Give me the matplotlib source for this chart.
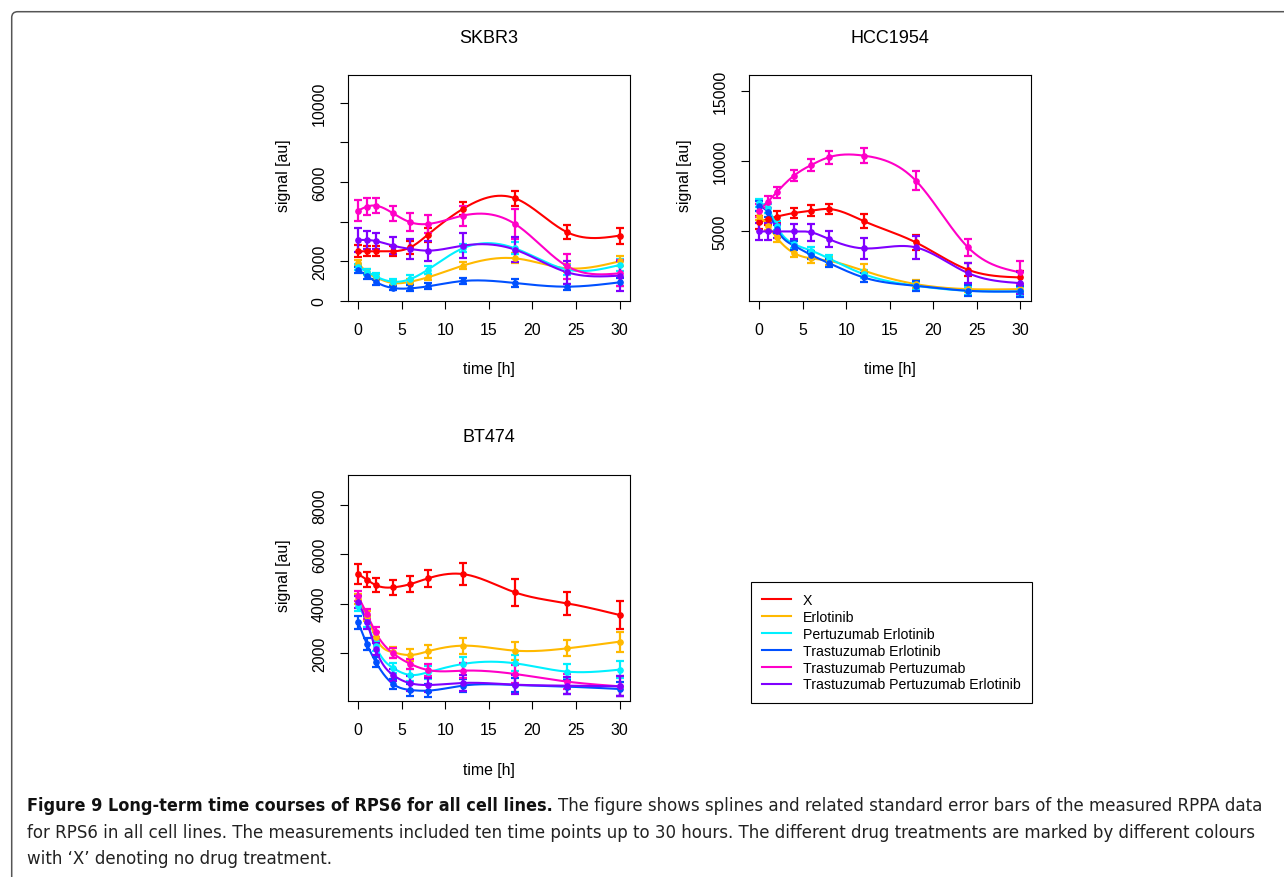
import numpy as np
import matplotlib.pyplot as plt
from matplotlib.patches import FancyBboxPatch
from matplotlib.lines import Line2D

plt.rcParams['font.family'] = ['Liberation Sans', 'DejaVu Sans']

# time points [h]
t = [0, 1, 2, 4, 6, 8, 12, 18, 24, 30]

treatments = ['X', 'Erlotinib', 'Pertuzumab Erlotinib', 'Trastuzumab Erlotinib',
              'Trastuzumab Pertuzumab', 'Trastuzumab Pertuzumab Erlotinib']
colors = ['#ff0000', '#ffb900', '#00f0ff', '#0050ff', '#ff00c8', '#8000ff']

# SKBR3 means / standard errors
skbr3_mean = [
    [2494, 2494, 2494, 2494, 2696, 3336, 4634, 5173, 3454, 3286],
    [1904, 1432, 1180, 893, 960, 1180, 1769, 2140, 1634, 1988],
    [1685, 1466, 1230, 960, 1095, 1567, 2645, 2645, 1567, 1803],
    [1550, 1264, 960, 640, 623, 724, 994, 893, 708, 927],
    [4550, 4752, 4802, 4415, 3960, 3876, 4297, 3876, 1736, 1382],
    [3067, 3067, 3016, 2780, 2612, 2528, 2780, 2578, 1432, 1264],
]
skbr3_se = [
    [300, 250, 250, 250, 330, 350, 330, 390, 350, 400],
    [150, 150, 150, 150, 150, 150, 180, 250, 200, 250],
    [150, 150, 150, 150, 180, 200, 200, 300, 250, 300],
    [150, 150, 150, 120, 150, 150, 150, 180, 150, 200],
    [540, 420, 390, 390, 450, 470, 500, 760, 630, 650],
    [620, 450, 420, 420, 500, 500, 620, 620, 580, 750],
]

# HCC1954
hcc_mean = [
    [5640, 5878, 6044, 6304, 6470, 6589, 5735, 4219, 2275, 1730],
    [6115, 5404, 4574, 3460, 3081, 2915, 2204, 1256, 900, 900],
    [7015, 6636, 5404, 4100, 3626, 3081, 1967, 1138, 782, 735],
    [6778, 6352, 5167, 3982, 3318, 2749, 1730, 1138, 782, 735],
    [6470, 7110, 7773, 8958, 9717, 10262, 10380, 8603, 3863, 2086],
    [5000, 5000, 5000, 5000, 4930, 4456, 3792, 3863, 2038, 1327],
]
hcc_se = [
    [470, 400, 400, 380, 400, 380, 470, 520, 470, 470],
    [300, 300, 300, 300, 300, 300, 450, 300, 200, 200],
    [300, 300, 300, 250, 250, 250, 300, 300, 300, 300],
    [350, 300, 300, 300, 300, 300, 350, 350, 400, 400],
    [470, 420, 400, 400, 420, 450, 560, 650, 600, 800],
    [600, 600, 500, 550, 600, 600, 750, 800, 700, 800],
]

# BT474
bt_mean = [
    [5201, 4972, 4756, 4661, 4796, 5026, 5201, 4458, 4012, 3540],
    [4188, 3513, 2634, 2027, 1918, 2067, 2297, 2094, 2189, 2459],
    [3918, 3242, 2297, 1392, 1108, 1216, 1554, 1581, 1243, 1324],
    [3242, 2364, 1648, 743, 500, 473, 676, 702, 635, 540],
    [4296, 3580, 2837, 1986, 1554, 1310, 1283, 1148, 838, 648],
    [4080, 3242, 2162, 1108, 770, 702, 784, 716, 676, 648],
]
bt_se = [
    [400, 300, 300, 300, 320, 340, 430, 540, 470, 570],
    [200, 200, 200, 220, 250, 270, 320, 370, 330, 400],
    [200, 200, 200, 220, 250, 270, 300, 330, 300, 350],
    [250, 250, 200, 220, 230, 250, 270, 300, 280, 300],
    [200, 200, 200, 200, 220, 250, 300, 350, 300, 400],
    [250, 250, 250, 250, 300, 300, 330, 380, 350, 400],
]

caption_bold = 'Figure 9 Long-term time courses of RPS6 for all cell lines.'
caption_1 = ('The figure shows splines and related standard error bars of the measured RPPA data')
caption_2 = ('for RPS6 in all cell lines. The measurements included ten time points up to 30 hours. '
             'The different drug treatments are marked by different colours')
caption_3 = 'with \u2018X\u2019 denoting no drug treatment.'


def natural_spline(x, y, n=300):
    x = np.asarray(x, float)
    y = np.asarray(y, float)
    h = np.diff(x)
    m = len(x)
    A = np.zeros((m - 2, m - 2))
    r = np.zeros(m - 2)
    for i in range(m - 2):
        A[i, i] = 2 * (h[i] + h[i + 1])
        if i < m - 3:
            A[i, i + 1] = h[i + 1]
            A[i + 1, i] = h[i + 1]
        r[i] = 6 * ((y[i + 2] - y[i + 1]) / h[i + 1] - (y[i + 1] - y[i]) / h[i])
    M = np.zeros(m)
    M[1:-1] = np.linalg.solve(A, r)
    xs = np.linspace(x[0], x[-1], n)
    k = np.clip(np.searchsorted(x, xs) - 1, 0, m - 2)
    x0, x1, hk = x[k], x[k + 1], h[k]
    ys = (M[k] * (x1 - xs) ** 3 / (6 * hk) + M[k + 1] * (xs - x0) ** 3 / (6 * hk)
          + (y[k] / hk - M[k] * hk / 6) * (x1 - xs)
          + (y[k + 1] / hk - M[k + 1] * hk / 6) * (xs - x0))
    return xs, ys


def panel(ax, title, means, ses, ylim, yticks, ylabels):
    for mu, se, c in zip(means, ses, colors):
        xs, ys = natural_spline(t, mu)
        ax.plot(xs, ys, color=c, lw=1.5)
        ax.errorbar(t, mu, yerr=se, fmt='o', color=c, ms=3.8, elinewidth=1.6,
                    capsize=3.2, capthick=1.6)
    ax.set_xlim(-1.2, 31.2)
    ax.set_ylim(*ylim)
    ax.set_xticks(range(0, 31, 5))
    ax.set_yticks(yticks)
    ax.set_yticklabels(ylabels)
    for lab in ax.get_yticklabels():
        lab.set_rotation(90)
        lab.set_va('center')
    ax.tick_params(length=6, width=0.8, labelsize=11.4, pad=9, colors='black')
    for s in ax.spines.values():
        s.set_linewidth(0.8)
    ax.set_xlabel('time [h]', fontsize=11.4)
    ax.set_ylabel('signal [au]', fontsize=11.4)
    ax.xaxis.set_label_coords(0.5, -0.30)
    ax.xaxis.label.set_va('center')
    ax.yaxis.set_label_coords(-0.229, 0.56)
    ax.yaxis.label.set_va('center')
    ax.text(0.5, 1.168, title, transform=ax.transAxes, ha='center', va='center',
            fontsize=13)


fig = plt.figure(figsize=(12.84, 8.78), dpi=100)

frame = FancyBboxPatch((0.117, -0.5), 13.5, 8.653 + 0.5,
                       boxstyle='round,pad=0,rounding_size=0.06',
                       transform=fig.dpi_scale_trans, facecolor='none',
                       edgecolor='#555555', lw=1.1)
fig.patches.append(frame)

ax1 = fig.add_axes([0.2708, 0.6564, 0.2199, 0.2570])
ax2 = fig.add_axes([0.5831, 0.6564, 0.2196, 0.2570])
ax3 = fig.add_axes([0.2708, 0.2001, 0.2199, 0.2578])

panel(ax1, 'SKBR3', skbr3_mean, skbr3_se, (0, 11400),
      [0, 2000, 4000, 6000, 8000, 10000], ['0', '2000', '', '6000', '', '10000'])
panel(ax2, 'HCC1954', hcc_mean, hcc_se, (80, 16100),
      [5000, 10000, 15000], ['5000', '10000', '15000'])
panel(ax3, 'BT474', bt_mean, bt_se, (40, 9220),
      [2000, 4000, 6000, 8000], ['2000', '4000', '6000', '8000'])

handles = [Line2D([], [], color=c, lw=1.5) for c in colors]
leg = fig.legend(handles, treatments, loc='upper left',
                 bbox_to_anchor=(751 / 1284, 1 - 583 / 878), fontsize=10.2,
                 frameon=True, fancybox=False, edgecolor='black', framealpha=1,
                 borderaxespad=0, handlelength=2.0, handletextpad=0.86,
                 labelspacing=0.2, borderpad=0.8)
leg.get_frame().set_linewidth(0.8)

# caption
cap_font = dict(family=['Liberation Sans Narrow', 'DejaVu Sans'], fontstretch='condensed',
                fontsize=13.3, color='#222222', va='baseline', ha='left')
W, H = 1284, 878
bold_font = dict(cap_font, fontsize=12.9, fontweight='bold', color='#111111')
tb = fig.text(27 / W, 1 - 811 / H, caption_bold, **bold_font)
fig.canvas.draw()
r = fig.canvas.get_renderer()
x1 = tb.get_window_extent(r).x1
fig.text((x1 + 5) / W, 1 - 811 / H, caption_1, **cap_font)
fig.text(27 / W, 1 - 838 / H, caption_2, **cap_font)
fig.text(27 / W, 1 - 864 / H, caption_3, **cap_font)

fig.savefig('out.png', dpi=100)
